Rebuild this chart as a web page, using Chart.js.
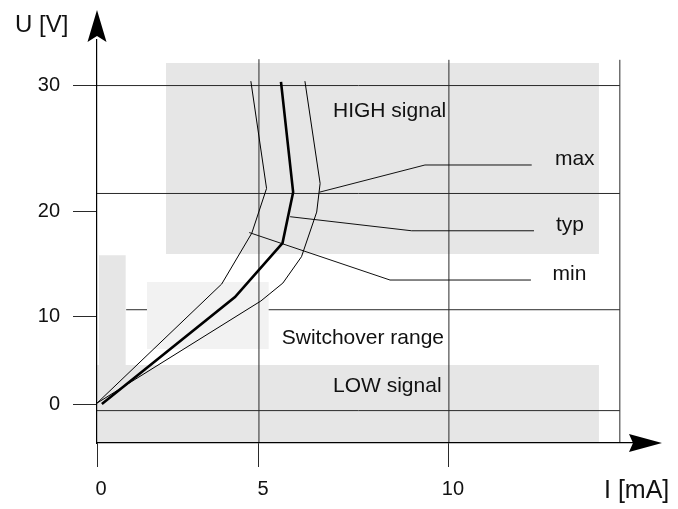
<!DOCTYPE html>
<html><head><meta charset="utf-8">
<script src="https://cdn.jsdelivr.net/npm/chart.js@4.4.1/dist/chart.umd.min.js"></script>
<style>html,body{margin:0;padding:0;background:#fff}canvas{display:block}</style>
</head><body>
<canvas id="c" width="678" height="509"></canvas>
<script>
// ---------------- data (I in mA, U in V) ----------------
const iTicks = [0, 5, 10];
const uTicks = [0, 10, 20, 30];

// characteristic curves
const typI = [0.15, 4.26, 5.62, 5.90, 5.58];
const typU = [0.0, 11.8, 16.95, 21.5, 30.3];
const minI = [0.0, 3.85, 4.78, 5.20, 4.75];
const minU = [0.1, 13.05, 17.9, 21.8, 30.35];
const maxI = [0.0, 5.05, 5.63, 6.12, 6.52, 6.61, 6.21];
const maxU = [0.1, 11.43, 13.14, 15.65, 19.9, 22.2, 30.35];

// leader lines to the curve labels
const maxLeaderI = [6.59, 9.37, 12.18];
const maxLeaderU = [21.5, 23.67, 23.67];
const typLeaderI = [5.82, 9.02, 12.24];
const typLeaderU = [19.46, 18.12, 18.12];
const minLeaderI = [4.70, 8.45, 12.16];
const minLeaderU = [17.95, 13.43, 13.43];

// shaded ranges: HIGH signal, LOW signal, narrow strip, switchover range
const regionI0 = [2.13, 0.0, 0.06, 1.54];
const regionI1 = [13.95, 13.95, 0.89, 5.26];
const regionU0 = [15.9, -4.43, 4.43, 6.25];
const regionU1 = [31.8, 4.43, 15.8, 13.24];

// reference lines
const hLineU = [30, 21.4, 10.6, -0.75];
const hLineI0 = [0, 0, 0.9, 0];
const hLineI1 = [14.5, 14.5, 14.5, 14.5];
const vLineI = [5, 10, 14.5];
const vLineU0 = [-4.43, -4.43, -4.43];
const vLineU1 = [32.1, 32.05, 32.05];

// text annotations
const labelTexts = ['HIGH signal', 'max', 'typ', 'min', 'Switchover range', 'LOW signal'];
const labelI = [6.95, 12.79, 12.82, 12.73, 5.6, 6.95];
const labelU = [27.5, 23.67, 18.12, 13.43, 6.82, 1.36];

// ---------------- segmented (non-uniform) linear scale ----------------
const SEGMENTS = {
  x: { at: [0, 5, 10], gap: [162, 190] },
  y: { at: [0, 10, 20, 30], gap: [88, 105, 125.5] }
};
function proxy(s, v) {
  const a = s.at, g = s.gap;
  if (v <= a[0]) return (v - a[0]) * g[0] / (a[1] - a[0]);
  let cum = 0;
  for (let i = 0; i < g.length; i++) {
    const span = a[i + 1] - a[i];
    if (v <= a[i + 1] || i === g.length - 1) return cum + (v - a[i]) * g[i] / span;
    cum += g[i];
  }
}
function unproxy(s, p) {
  const a = s.at, g = s.gap;
  if (p <= 0) return a[0] + p * (a[1] - a[0]) / g[0];
  let cum = 0;
  for (let i = 0; i < g.length; i++) {
    const span = a[i + 1] - a[i];
    if (p <= cum + g[i] || i === g.length - 1) return a[i] + (p - cum) * span / g[i];
    cum += g[i];
  }
}
class SegmentedScale extends Chart.LinearScale {
  getPixelForValue(value) {
    if (value === null || value === undefined || isNaN(value)) return NaN;
    const s = SEGMENTS[this.id];
    const p0 = proxy(s, this.min), p1 = proxy(s, this.max);
    return this.getPixelForDecimal((proxy(s, value) - p0) / (p1 - p0));
  }
  getValueForPixel(pixel) {
    const s = SEGMENTS[this.id];
    const p0 = proxy(s, this.min), p1 = proxy(s, this.max);
    return unproxy(s, p0 + this.getDecimalForPixel(pixel) * (p1 - p0));
  }
}
SegmentedScale.id = 'segmented';
SegmentedScale.defaults = Chart.LinearScale.defaults;
Chart.register(SegmentedScale);

// ---------------- datasets ----------------
const pts = (xs, ys) => xs.map((x, i) => ({ x: x, y: ys[i] }));
const base = { pointRadius: 0, tension: 0, fill: false };
const datasets = [];

const regionColors = ['#e6e6e6', '#e6e6e6', '#e6e6e6', '#f2f2f2'];
const regionOrder = [10, 10, 7, 6];
regionI0.forEach((x0, i) => {
  datasets.push(Object.assign({}, base, {
    data: pts([x0, regionI1[i]], [regionU1[i], regionU1[i]]),
    fill: { value: regionU0[i] },
    backgroundColor: regionColors[i],
    borderColor: 'rgba(0,0,0,0)', borderWidth: 0,
    order: regionOrder[i]
  }));
});
hLineU.forEach((u, i) => {
  datasets.push(Object.assign({}, base, {
    data: pts([hLineI0[i], hLineI1[i]], [u, u]),
    borderColor: '#2a2a2a', borderWidth: 1, order: 8
  }));
});
vLineI.forEach((x, i) => {
  datasets.push(Object.assign({}, base, {
    data: pts([x, x], [vLineU0[i], vLineU1[i]]),
    borderColor: '#2a2a2a', borderWidth: 1, order: 4
  }));
});
[[maxLeaderI, maxLeaderU], [typLeaderI, typLeaderU], [minLeaderI, minLeaderU]].forEach(([xs, ys]) => {
  datasets.push(Object.assign({}, base, { data: pts(xs, ys), borderColor: '#111', borderWidth: 1, order: 3 }));
});
datasets.push(Object.assign({}, base, { data: pts(minI, minU), borderColor: '#000', borderWidth: 1, order: 2 }));
datasets.push(Object.assign({}, base, { data: pts(maxI, maxU), borderColor: '#000', borderWidth: 1, order: 2 }));
datasets.push(Object.assign({}, base, { data: pts(typI, typU), borderColor: '#000', borderWidth: 2.6, order: 1 }));

const FONT = '"Liberation Sans", Arial, Helvetica, sans-serif';

const decor = {
  id: 'decor',
  afterDatasetsDraw(chart) {
    const { ctx, chartArea: a, scales: { x, y } } = chart;
    ctx.save();
    ctx.fillStyle = '#111';
    ctx.font = '21px ' + FONT;
    ctx.textAlign = 'left';
    ctx.textBaseline = 'alphabetic';
    labelTexts.forEach((t, i) => ctx.fillText(t, x.getPixelForValue(labelI[i]), y.getPixelForValue(labelU[i])));
    // axis arrows
    ctx.fillStyle = '#000';
    ctx.beginPath();
    ctx.moveTo(a.left, a.top - 30);
    ctx.lineTo(a.left + 9.5, a.top + 2);
    ctx.lineTo(a.left, a.top - 4);
    ctx.lineTo(a.left - 9.5, a.top + 2);
    ctx.closePath(); ctx.fill();
    ctx.beginPath();
    ctx.moveTo(a.right + 30, a.bottom);
    ctx.lineTo(a.right - 3, a.bottom - 9);
    ctx.lineTo(a.right + 1, a.bottom);
    ctx.lineTo(a.right - 3, a.bottom + 9);
    ctx.closePath(); ctx.fill();
    // axis titles
    ctx.fillStyle = '#111';
    ctx.font = '24px ' + FONT;
    ctx.fillText('U [V]', a.left - 82, a.top - 8);
    ctx.font = '25px ' + FONT;
    ctx.fillText('I [mA]', a.right - 28, a.bottom + 55);
    ctx.restore();
  }
};

new Chart(document.getElementById('c'), {
  type: 'line',
  data: { datasets: datasets },
  plugins: [decor],
  options: {
    responsive: false,
    animation: false,
    devicePixelRatio: 1,
    layout: { padding: { top: 40, right: 46, bottom: 0, left: 0 } },
    plugins: { legend: { display: false }, tooltip: { enabled: false } },
    scales: {
      x: {
        type: 'segmented', min: 0, max: 14.82, bounds: 'data',
        afterBuildTicks: s => { s.ticks = iTicks.map(v => ({ value: v })); },
        afterFit: s => { s.height = 66; },
        grid: { drawOnChartArea: false, drawTicks: true, tickLength: 24, color: '#2a2a2a', lineWidth: 1 },
        border: { display: true, color: '#000', width: 1.2, z: 2 },
        ticks: { padding: 10, labelOffset: 4, color: '#111', font: { size: 20, family: FONT }, maxRotation: 0, autoSkip: false, callback: v => String(v) }
      },
      y: {
        type: 'segmented', min: -4.43, max: 33.63, bounds: 'data',
        afterBuildTicks: s => { s.ticks = uTicks.map(v => ({ value: v })); },
        afterFit: s => { s.width = 97; },
        grid: { drawOnChartArea: false, drawTicks: true, tickLength: 24, color: '#2a2a2a', lineWidth: 1 },
        border: { display: true, color: '#000', width: 1.2, z: 2 },
        ticks: { padding: 13, color: '#111', font: { size: 20, family: FONT }, autoSkip: false, callback: v => String(v) }
      }
    }
  }
});
</script>
</body></html>
